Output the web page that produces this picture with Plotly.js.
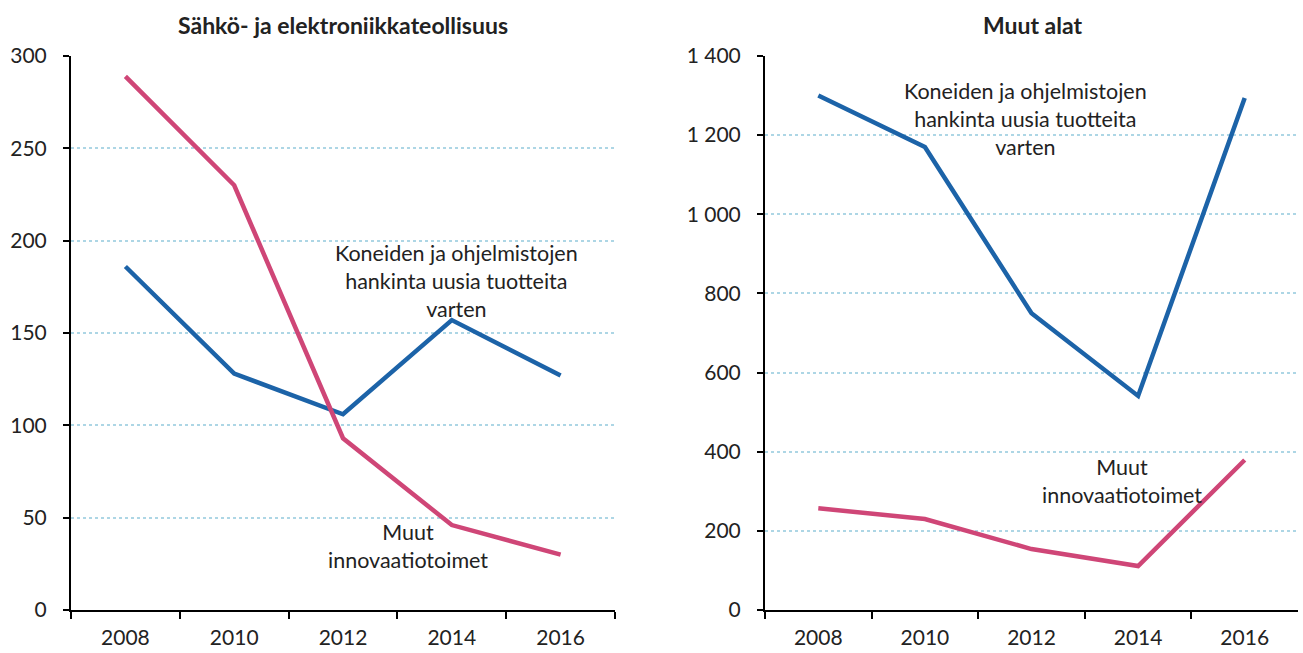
<!DOCTYPE html>
<html><head><meta charset="utf-8">
<script src="https://cdn.plot.ly/plotly-3.0.1.min.js"></script>
<style>html,body{margin:0;padding:0;background:#fff;}#c{width:1303px;height:653px;}</style>
</head><body><div id="c"></div>
<script>
const years = ["2008","2010","2012","2014","2016"];
const elecMachines = [186, 128, 106, 157, 127];
const elecOther = [289, 230, 93, 46, 30];
const otherMachines = [1300, 1170, 750, 541, 1294];
const otherOther = [257, 230, 154, 111, 379];
const titleLeft = "Sähkö- ja elektroniikkateollisuus";
const titleRight = "Muut alat";
const labelMachines = ["Koneiden ja ohjelmistojen", "hankinta uusia tuotteita", "varten"];
const labelOther = ["Muut", "innovaatiotoimet"];

const blue = "#1c63a8", pink = "#cf4677";
const font = "Lato, 'Open Sans', sans-serif";
const W = 1303, H = 653;

const traces = [
  {x: years, y: elecMachines, xaxis:"x", yaxis:"y", mode:"lines", line:{color:blue, width:4.5}},
  {x: years, y: elecOther, xaxis:"x", yaxis:"y", mode:"lines", line:{color:pink, width:4.5}},
  {x: years, y: otherMachines, xaxis:"x2", yaxis:"y2", mode:"lines", line:{color:blue, width:4.5}},
  {x: years, y: otherOther, xaxis:"x2", yaxis:"y2", mode:"lines", line:{color:pink, width:4.5}}
];

const yd = [1-610/H, 1-56/H];
const xaxisBase = {type:"category", tickson:"boundaries", range:[-0.5,4.5], showline:true, linecolor:"#000", linewidth:2,
  ticks:"outside", ticklen:7, tickwidth:2, tickcolor:"#000", showgrid:false, zeroline:false, ticklabelstandoff:8,
  tickfont:{family:font, size:21, color:"#222"}, fixedrange:true};
const yaxisBase = {showline:true, linecolor:"#000", linewidth:2, ticks:"outside", ticklen:6, tickwidth:2, tickcolor:"#000",
  showgrid:true, gridcolor:"#add6e5", griddash:"dot", gridwidth:2, zeroline:false, ticklabelstandoff:12,
  tickfont:{family:font, size:21, color:"#222"}, domain:yd, fixedrange:true};

function label(lines, cx, cy) {
  return {text:lines.join("<br>"), xref:"paper", yref:"paper", x:cx/W, y:1-cy/H,
    xanchor:"center", yanchor:"middle", align:"center", showarrow:false,
    font:{family:font, size:21.5, color:"#222"}};
}

const layout = {
  width:W, height:H, margin:{l:0,r:0,t:0,b:0}, showlegend:false,
  paper_bgcolor:"#fff", plot_bgcolor:"#fff", separators:". ",
  xaxis: Object.assign({}, xaxisBase, {domain:[71/W, 615/W], anchor:"y"}),
  yaxis: Object.assign({}, yaxisBase, {range:[0,300], dtick:50, anchor:"x"}),
  xaxis2: Object.assign({}, xaxisBase, {domain:[765/W, 1298/W], anchor:"y2"}),
  yaxis2: Object.assign({}, yaxisBase, {range:[0,1400], dtick:200, anchor:"x2", separatethousands:true}),
  annotations: [
    {text:"<b>"+titleLeft+"</b>", xref:"paper", yref:"paper", x:343/W, y:1-25/H, xanchor:"center", yanchor:"middle", showarrow:false, font:{family:font, size:23, color:"#222"}},
    {text:"<b>"+titleRight+"</b>", xref:"paper", yref:"paper", x:1033/W, y:1-25/H, xanchor:"center", yanchor:"middle", showarrow:false, font:{family:font, size:23, color:"#222"}},
    label(labelMachines, 456, 281),
    label(labelMachines, 1025, 119),
    label(labelOther, 408, 546),
    label(labelOther, 1122, 481)
  ]
};
Plotly.newPlot("c", traces, layout, {staticPlot:true});
</script></body></html>
